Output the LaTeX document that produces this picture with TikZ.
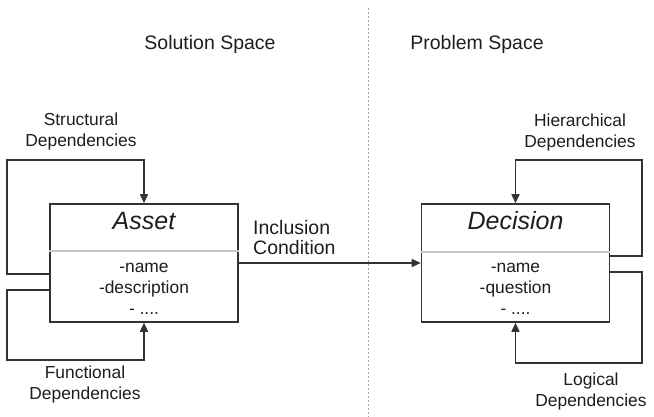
\documentclass[tikz,border=0pt]{standalone}
\usepackage{fontspec}
\setmainfont{Liberation Sans}
\usetikzlibrary{arrows.meta}
\definecolor{ink}{HTML}{1E1E1E}
\definecolor{edge}{HTML}{333333}
\begin{document}
\begin{tikzpicture}[x=1pt,y=-1pt,
  cls/.style={draw=edge,line width=1.6pt,minimum width=188pt,minimum height=118pt,inner sep=0pt},
  dep/.style={draw=edge,line width=1.6pt,-{Triangle[length=9pt,width=8pt]}},
  lbl/.style={text=ink,align=center,font=\fontsize{17.4}{21}\selectfont,inner sep=0pt},
  hdr/.style={text=ink,font=\fontsize{19.5}{20}\selectfont,inner sep=0pt},
  ttl/.style={text=ink,font=\fontsize{25}{26}\selectfont\itshape,inner sep=0pt},
  attr/.style={text=ink,align=center,font=\fontsize{17.4}{21}\selectfont,inner sep=0pt}]
\useasboundingbox (0,0) rectangle (654,417);
\fill[white] (0,0) rectangle (654,417);
% separator
\coordinate (septop) at (368,8);
\coordinate (sepbot) at (368,417);
\draw[gray!70,line width=1pt,dash pattern=on 2pt off 2pt] (septop) -- (sepbot);
% headers
\node[hdr] (sol) at (210,44) {Solution Space};
\node[hdr] (prob) at (477,44) {Problem Space};
% boxes
\node[cls] (A) at (144,263) {};
\node[cls] (D) at (515.5,263) {};
\draw[gray!45,line width=1.2pt] ([yshift=12pt]A.west) -- ([yshift=12pt]A.east);
\draw[gray!45,line width=1.2pt] ([yshift=11pt]D.west) -- ([yshift=11pt]D.east);
\node[ttl] (At) at (144,221) {Asset};
\node[ttl] (Dt) at (515.5,221) {Decision};
\node[attr] (Aa) at (144,289) {-name\\-description\\- ....};
\node[attr] (Da) at (515.5,289) {-name\\-question\\- ....};
% inclusion
\draw[dep] (A) -- (D);
\node[hdr,align=left,font=\fontsize{19.5}{20}\selectfont,anchor=west] (inc) at (253,238) {Inclusion\\Condition};
% loops
\draw[dep] ([yshift=-11pt]A.west) -| (7,160) -| (A.north);
\draw[dep] ([yshift=-27pt]A.west) -| (7,360) -| (A.south);
\draw[dep] ([yshift=7pt]D.east) -| (642,160) -| (D.north);
\draw[dep] ([yshift=-9pt]D.east) -| (642,363) -| (D.south);
% labels
\node[lbl] (sd) at (81,132) {Structural\\Dependencies};
\node[lbl] (fd) at (85,385) {Functional\\Dependencies};
\node[lbl] (hd) at (580,133) {Hierarchical\\Dependencies};
\node[lbl] (ld) at (591,392) {Logical\\Dependencies};
\end{tikzpicture}
\end{document}
